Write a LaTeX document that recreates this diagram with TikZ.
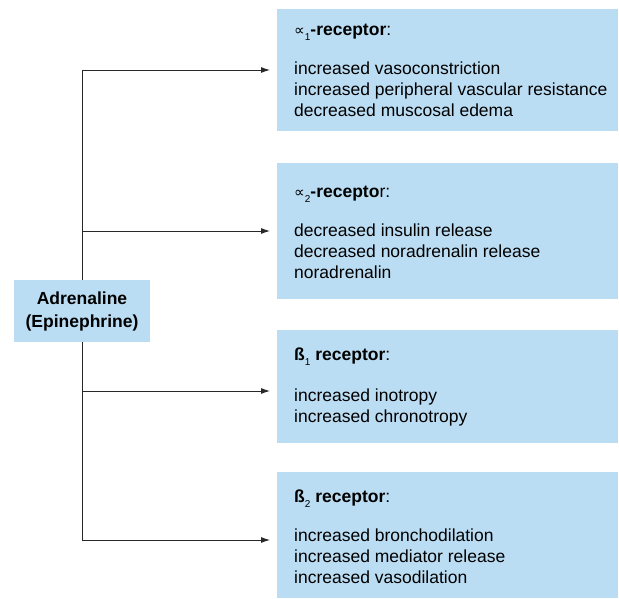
\documentclass[tikz,border=0pt]{standalone}
\usepackage{fontspec}
\setmainfont{Liberation Sans}
\newfontfamily\symfont{DejaVu Sans}
\usetikzlibrary{calc,arrows.meta}
\definecolor{boxblue}{RGB}{187,221,243}
\definecolor{linegray}{RGB}{40,40,40}
\newcommand{\subn}[1]{\raisebox{-5pt}{\fontsize{10}{10}\selectfont #1}}
\newcommand{\prp}{{\symfont\fontsize{15}{15}\selectfont ∝}}
\begin{document}
\begin{tikzpicture}[x=1pt,y=-1pt,
  rbox/.style={fill=boxblue,draw=none,inner sep=0pt,anchor=north west},
  txt/.style={inner sep=0pt,anchor=north west,align=left,font=\fontsize{17.5}{21}\selectfont},
  conn/.style={draw=linegray,line width=0.9pt},
  arr/.style={conn,-{Latex[length=9pt,width=6pt]}}]
\useasboundingbox (0,0) rectangle (619,599);
% boxes
\node[rbox,minimum width=341pt,minimum height=122pt] (b1) at (277,9) {};
\node[rbox,minimum width=341pt,minimum height=136pt] (b2) at (277,163) {};
\node[rbox,minimum width=341pt,minimum height=113pt] (b3) at (277,330) {};
\node[rbox,minimum width=341pt,minimum height=126pt] (b4) at (277,472) {};
% texts
\node[txt] (t1) at (294,24) {\prp\subn{1}\textbf{-receptor}:\\[18pt]increased vasoconstriction\\increased peripheral vascular resistance\\decreased muscosal edema};
\node[txt] (t2) at (294,186) {\prp\subn{2}\textbf{-recepto}r:\\[18pt]decreased insulin release\\decreased noradrenalin release\\noradrenalin};
\node[txt] (t3) at (294,348) {\textbf{ß}\subn{1} \textbf{receptor}:\\[20pt]increased inotropy\\increased chronotropy};
\node[txt] (t4) at (294,490) {\textbf{ß}\subn{2} \textbf{receptor}:\\[18pt]increased bronchodilation\\increased mediator release\\increased vasodilation};
% adrenaline
\coordinate (top) at (82,70);
\coordinate (bot) at (82,540);
\draw[conn] (top) -- (bot);
\node[fill=boxblue,minimum width=136pt,minimum height=62pt,inner sep=0pt,align=center,font=\bfseries\fontsize{17.5}{23}\selectfont] (adr) at (82,311) {Adrenaline\\(Epinephrine)};
\coordinate (j2) at (82,231);
\coordinate (j3) at (82,391);
\coordinate (e1) at (270,70);
\coordinate (e2) at (270,231);
\coordinate (e3) at (270,391);
\coordinate (e4) at (270,540);
\draw[arr] (top) -- (e1);
\draw[arr] (j2) -- (e2);
\draw[arr] (j3) -- (e3);
\draw[arr] (bot) -- (e4);
\end{tikzpicture}
\end{document}
